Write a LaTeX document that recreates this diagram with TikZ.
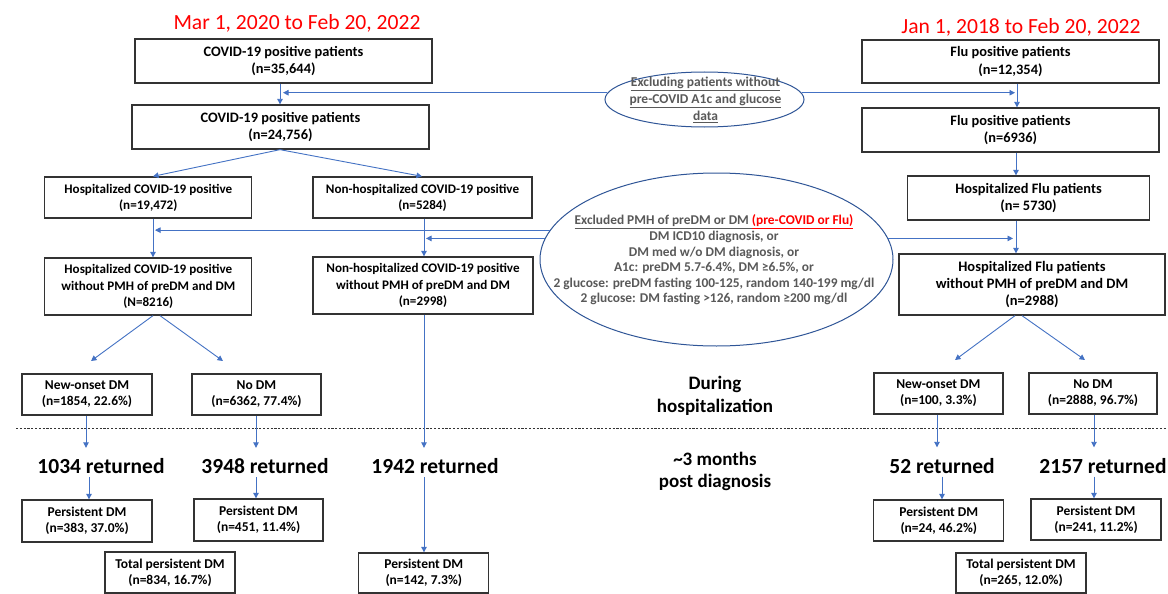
\documentclass[tikz,border=0pt]{standalone}
\usepackage{fontspec}
\setmainfont{Carlito}
\usetikzlibrary{arrows.meta,shapes.geometric}
\definecolor{arrblue}{HTML}{4472C4}
\definecolor{ellblue}{HTML}{2F5597}
\definecolor{boxgray}{HTML}{333333}
\definecolor{txtgray}{HTML}{595959}
\definecolor{titlered}{HTML}{FF0000}
\begin{document}
\begin{tikzpicture}[x=1pt,y=-1pt,
  wh/.style 2 args={minimum width=#1pt, minimum height=#2pt},
  box/.style={draw=boxgray, line width=1.3pt, inner sep=0pt, align=center, font=\bfseries\fontsize{14.4}{17.7}\selectfont},
  mbox/.style={box, font=\bfseries\fontsize{13.1}{16.2}\selectfont},
  sbox/.style={box, font=\bfseries\fontsize{13.5}{16.2}\selectfont},
  arr/.style={draw=arrblue, line width=0.9pt, -{Triangle[length=5.5pt,width=5.5pt]}},
  ell/.style={draw=ellblue, line width=1pt, ellipse, inner sep=0pt},
  etext/.style={align=center, text=txtgray, inner sep=0pt},
  ret/.style={font=\bfseries\fontsize{21.5}{25}\selectfont, inner sep=0pt, text height=14pt, text depth=0pt, anchor=base},
  title/.style={text=titlered, font=\fontsize{21.6}{25}\selectfont},
  phase/.style={align=center, font=\bfseries\fontsize{19}{22.5}\selectfont}
]
\useasboundingbox (0,0) rectangle (1168,594);
\fill[white] (0,0) rectangle (1168,594);

% titles
\node[title] (t1) at (297,23) {Mar 1, 2020 to Feb 20, 2022};
\node[title] (t2) at (1021,27) {Jan 1, 2018 to Feb 20, 2022};

% top boxes
\node[box, wh={297}{44}] (c1) at (283.5,61) {COVID-19 positive patients\\(n=35,644)};
\node[box, wh={297}{44}] (c2) at (280.5,127) {COVID-19 positive patients\\(n=24,756)};
\node[box, wh={297}{43}] (f1) at (1010.5,61.5) {Flu positive patients\\(n=12,354)};
\node[box, wh={297}{44}] (f2) at (1010.5,130) {Flu positive patients\\(n=6936)};

% ellipse 1
\node[ell, wh={199}{55}] (e1) at (704.5,99.5) {};
\node[etext, font=\bfseries\fontsize{13.5}{17}\selectfont] (e1t) at (705.5,100) {\underline{Excluding patients without}\\\underline{pre-COVID A1c and glucose}\\\underline{data}};

% second level
\node[mbox, wh={207}{41}] (hosp) at (148.3,197.5) {Hospitalized COVID-19 positive\\(n=19,472)};
\node[mbox, wh={219}{41}] (nonhosp) at (422.5,197.5) {Non-hospitalized COVID-19 positive\\(n=5284)};
\node[mbox, wh={242}{44}, font=\bfseries\fontsize{14.4}{17.7}\selectfont] (fhosp) at (1028.5,198) {Hospitalized Flu patients\\(n= 5730)};

\node[mbox, wh={207}{57}] (hospwo) at (148.3,286.5) {Hospitalized COVID-19 positive\\without PMH of preDM and DM\\(N=8216)};
\node[mbox, wh={220}{57}] (nonhospwo) at (423,285.5) {Non-hospitalized COVID-19 positive\\without PMH of preDM and DM\\(n=2998)};
\node[mbox, wh={266}{61}, font=\bfseries\fontsize{14.5}{17}\selectfont] (fwo) at (1032,284.5) {Hospitalized Flu patients\\without PMH of preDM and DM\\(n=2988)};

% ellipse 2
\node[ell, wh={353}{173}] (e2) at (716.5,259.5) {};
\node[etext, font=\bfseries\fontsize{13.4}{15.6}\selectfont] (e2t) at (714,260) {\underline{Excluded PMH of preDM or DM }\textcolor{titlered}{\underline{(pre-COVID or Flu)}}\\DM ICD10 diagnosis, or\\DM med w/o DM diagnosis, or\\A1c: preDM 5.7-6.4\%, DM ≥6.5\%, or\\2 glucose: preDM fasting 100-125, random 140-199 mg/dl\\2 glucose: DM fasting >126, random ≥200 mg/dl};

% DM outcome boxes
\node[sbox, wh={130}{41}] (newc) at (87,394.5) {New-onset DM\\(n=1854, 22.6\%)};
\node[sbox, wh={129}{41}] (nodmc) at (256.5,394.5) {No DM\\(n=6362, 77.4\%)};
\node[sbox, wh={129}{41}] (newf) at (938.4,393.5) {New-onset DM\\(n=100, 3.3\%)};
\node[sbox, wh={128}{41}] (nodmf) at (1093,393.5) {No DM\\(n=2888, 96.7\%)};

% phase labels
\node[phase] (ph1) at (715,396) {During\\hospitalization};
\node[phase] (ph2) at (715,471.5) {\textasciitilde3 months\\post diagnosis};

% dashed separator
\coordinate (dl) at (16,428);
\coordinate (dr) at (1166,428);
\draw[black!80, line width=0.7pt, dash pattern=on 2.2pt off 1.6pt] (dl) -- (dr);

% returned
\node[ret] (r1) at (101,473.5) {1034 returned};
\node[ret] (r2) at (265,473.5) {3948 returned};
\node[ret] (r3) at (435,473.5) {1942 returned};
\node[ret] (r4) at (942,473) {52 returned};
\node[ret] (r5) at (1103,473) {2157 returned};

% persistent boxes
\node[sbox, wh={130}{42}] (pc1) at (87,521) {Persistent DM\\(n=383, 37.0\%)};
\node[sbox, wh={129}{42}] (pc2) at (258.5,520) {Persistent DM\\(n=451, 11.4\%)};
\node[sbox, wh={130}{41}] (tc) at (170,572.5) {Total persistent DM\\(n=834, 16.7\%)};
\node[sbox, wh={130}{40}] (pnh) at (423.8,573) {Persistent DM\\(n=142, 7.3\%)};
\node[sbox, wh={130}{41}] (pf1) at (938.8,520.5) {Persistent DM\\(n=24, 46.2\%)};
\node[sbox, wh={130}{41}] (pf2) at (1096,519.5) {Persistent DM\\(n=241, 11.2\%)};
\node[sbox, wh={130}{40}] (tf) at (1021,573) {Total persistent DM\\(n=265, 12.0\%)};

% ---- connectors ----
\draw[arr] (c1.south -| 280,0) -- (c2.north -| 280,0);
\draw[arr] (e1.176) -- (e1.176 -| 283,0);
\draw[arr] (e1.4) -- (e1.4 -| 1015,0);
\draw[arr] (f1.south -| 1017,0) -- (f2.north -| 1017,0);
\draw[arr] (f2.south -| 1016,0) -- (fhosp.north -| 1016,0);

\draw[arr] (c2.south -| 280,0) -- (hosp.north -| 153,0);
\draw[arr] (c2.south -| 280,0) -- (nonhosp.north -| 422,0);

\draw[arr] (hosp.south -| 153,0) -- (hospwo.north -| 153,0);
\draw[arr] (nonhosp.south -| 424,0) -- (nonhospwo.north -| 424,0);
\draw[arr] (fhosp.south -| 1016,0) -- (fwo.north -| 1016,0);

\draw[arr] (e2.170.7) -- (e2.170.7 -| 155,0);
\draw[arr] (e2.173.2) -- (e2.173.2 -| 426,0);
\draw[arr] (e2.7.87) -- (e2.7.87 -| 1013,0);

\coordinate (a1) at (91,361);
\coordinate (a2) at (223,361);
\coordinate (a3) at (955,360);
\coordinate (a4) at (1085,360);
\draw[arr] (hospwo.south -| 153,0) -- (a1);
\draw[arr] (hospwo.south -| 160,0) -- (a2);
\draw[arr] (fwo.south -| 1015,0) -- (a3);
\draw[arr] (fwo.south -| 1022,0) -- (a4);

\draw[arr, shorten >=11.5pt] (newc.south -| 86,0) -- (r1.north -| 86,0);
\draw[arr, shorten >=11.5pt] (nodmc.south -| 256,0) -- (r2.north -| 256,0);
\draw[arr, shorten >=11.5pt] (nonhospwo.south -| 424,0) -- (r3.north -| 424,0);
\draw[arr, shorten >=11.5pt] (newf.south -| 937,0) -- (r4.north -| 937,0);
\draw[arr, shorten >=11.5pt] (nodmf.south -| 1094,0) -- (r5.north -| 1094,0);

\draw[arr, shorten <=3.5pt] (r1.south -| 89,0) -- (pc1.north -| 89,0);
\draw[arr, shorten <=3.5pt] (r2.south -| 256,0) -- (pc2.north -| 256,0);
\draw[arr, shorten <=3.5pt] (r3.south -| 424,0) -- (pnh.north -| 424,0);
\draw[arr, shorten <=3.5pt] (r4.south -| 942,0) -- (pf1.north -| 942,0);
\draw[arr, shorten <=3.5pt] (r5.south -| 1094,0) -- (pf2.north -| 1094,0);
\end{tikzpicture}
\end{document}
